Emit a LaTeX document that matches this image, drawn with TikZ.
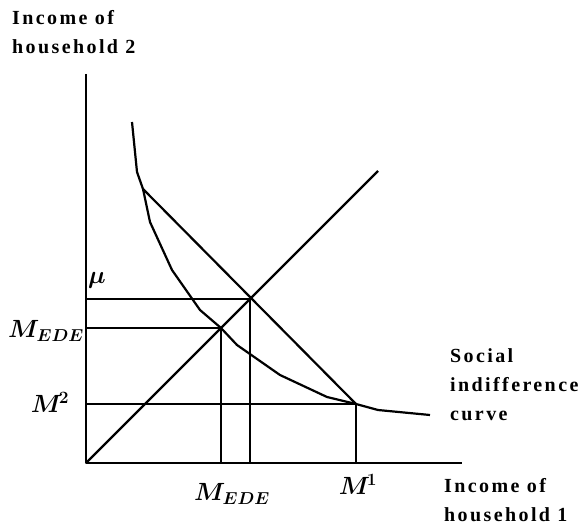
\documentclass[tikz,border=0pt]{standalone}
\usepackage{fontspec}
\setmainfont{Liberation Serif}[LetterSpace=12]
\begin{document}
\begin{tikzpicture}[x=1pt,y=-1pt,
  ln/.style={line width=2.2pt,line join=round},
  lbl/.style={font=\fontsize{20}{29}\selectfont\bfseries,align=left,inner sep=0pt},
  mlab/.style={font=\fontsize{23}{24}\selectfont\boldmath,inner sep=0pt}]
\useasboundingbox (0,0) rectangle (581,532);
% axes
\coordinate (O) at (86,463);
\coordinate (Ytop) at (86,74);
\coordinate (Xend) at (462,463);
\draw[ln] (Ytop) -- (O) -- (Xend);
% 45 degree line
\coordinate (D) at (378,171);
\draw[ln] (O) -- (D);
% key points
\coordinate (Mu) at (250,299);
\coordinate (E) at (221,328);
\coordinate (M) at (356,404);
\coordinate (B) at (143,189);
% budget line
\draw[ln] (B) -- (M);
% guide lines
\draw[ln] (Mu -| O) -- (Mu) -- (Mu |- O);
\draw[ln] (E -| O) -- (E) -- (E |- O);
\draw[ln] (M -| O) -- (M) -- (M |- O);
% indifference curve
\draw[ln] (132,122) -- (137,172) -- (B) -- (150,222) -- (172,270) -- (200,310) -- (E) -- (237,345) -- (280,375) -- (327,397) -- (M) -- (378,410) -- (430,415);
% labels
\node[lbl,anchor=north west] (yl) at (12,10) {Income of\\household 2};
\node[lbl,anchor=north west] (xl) at (444,478) {Income of\\household 1};
\node[lbl,anchor=north west] (sl) at (450,348) {Social\\indifference\\curve};
\node[mlab] (mu) at (97,280) {$\mu$};
\node[mlab] (ey) at (46,331) {$M_{EDE}$};
\node[mlab] (m2) at (50,402) {$M^{\!2}$};
\node[mlab] (ex) at (232,494) {$M_{EDE}$};
\node[mlab] (m1) at (358,484) {$M^{\!1}$};
\end{tikzpicture}
\end{document}
